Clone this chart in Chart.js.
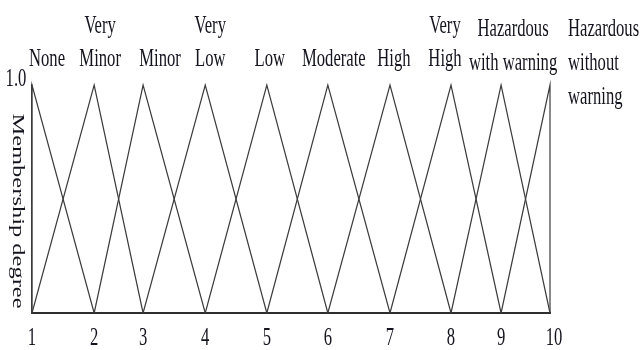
<!DOCTYPE html>
<html>
<head>
<meta charset="utf-8">
<script src="https://cdn.jsdelivr.net/npm/chart.js@4"></script>
<style>
  html, body { margin: 0; padding: 0; background: #fff; }
  #wrap { width: 644px; height: 350px; }
</style>
</head>
<body>
<div id="wrap"><canvas id="mfChart" width="644" height="350"></canvas></div>
<script>
// linguistic terms, one triangle each
const termNames = [
  ["None"], ["Very", "Minor"], ["Minor"], ["Very", "Low"], ["Low"],
  ["Moderate"], ["High"], ["Very", "High"], ["Hazardous", "with warning"],
  ["Hazardous", "without", "warning"]
];
// where each peak sits on the axis (as drawn, spacing is uneven)
const peakPos = [1, 2.08, 2.93, 4.01, 5.08, 6.14, 7.22, 8.28, 9.15, 10];
const xTickLabels = ["1", "2", "3", "4", "5", "6", "7", "8", "9", "10"];
const yTickValues = [1];
const yTickLabels = ["1.0"];
const yTitle = "Membership degree";

const FONT = "'Liberation Serif', 'Times New Roman', serif";
const SQUEEZE = 0.64;
const INK = "#14141e";

// label placement: x offset from peak (px), alignment, line baselines
const labelLayout = [
  { dx: 15 }, { dx: 6 }, { dx: 17 }, { dx: 5 }, { dx: 3 },
  { dx: 6 }, { dx: 4 }, { dx: -6 }, { dx: 12, tall: true },
  { dx: 18, align: "left", tall: true }
];

function buildDatasets() {
  const n = peakPos.length;
  return peakPos.map((p, i) => {
    const pts = [];
    pts.push({ x: i > 0 ? peakPos[i - 1] : p, y: 0 });
    pts.push({ x: p, y: 1 });
    pts.push({ x: i < n - 1 ? peakPos[i + 1] : p, y: 0 });
    return {
      label: termNames[i].join(" "),
      data: pts,
      borderColor: "#3c3c3c",
      borderWidth: 1.2,
      pointRadius: 0,
      tension: 0,
      fill: false,
      clip: false
    };
  });
}

function squeezedText(ctx, txt, x, y, align) {
  ctx.save();
  ctx.translate(x, y);
  ctx.scale(SQUEEZE, 1);
  ctx.textAlign = align || "center";
  ctx.fillText(txt, 0, 0);
  ctx.restore();
}

const textPlugin = {
  id: "mfText",
  afterDraw(chart) {
    const ctx = chart.ctx;
    const xs = chart.scales.x, ys = chart.scales.y;
    ctx.save();
    ctx.fillStyle = INK;
    ctx.textBaseline = "alphabetic";
    ctx.font = "26px " + FONT;

    // term names on top
    termNames.forEach((lines, i) => {
      const lay = labelLayout[i];
      const px = xs.getPixelForValue(peakPos[i]) + lay.dx;
      let bases;
      if (lay.tall) bases = [36, 70, 104];
      else bases = lines.length === 2 ? [33, 66] : [66];
      lines.forEach((ln, k) => squeezedText(ctx, ln, px, bases[k], lay.align));
    });

    // x tick labels
    xTickLabels.forEach((t, i) => {
      const px = xs.getPixelForValue(peakPos[i]) + (t.length > 1 ? 4 : 0);
      squeezedText(ctx, t, px, 345);
    });

    // y tick labels
    yTickValues.forEach((v, i) => {
      const py = ys.getPixelForValue(v);
      squeezedText(ctx, yTickLabels[i], 16, py + 1, "center");
    });

    // y title, reading top to bottom
    ctx.font = "24.5px " + FONT;
    ctx.save();
    ctx.translate(17, (ys.top + ys.bottom) / 2 + 12);
    ctx.scale(0.65, 1);
    ctx.rotate(Math.PI / 2);
    ctx.textAlign = "center";
    ctx.textBaseline = "middle";
    ctx.fillText(yTitle, 0, 0);
    ctx.restore();

    ctx.restore();
  }
};

new Chart(document.getElementById("mfChart"), {
  type: "line",
  data: { datasets: buildDatasets() },
  options: {
    responsive: false,
    animation: false,
    layout: { padding: { left: 32, right: 94, top: 85, bottom: 37 } },
    scales: {
      x: {
        type: "linear",
        min: 1,
        max: 10,
        grid: { display: false, drawTicks: false },
        ticks: { display: false },
        border: { display: true, color: "#2e2e2e", width: 2 },
        afterFit(s) { s.height = 0; }
      },
      y: {
        min: 0,
        max: 1,
        grid: { display: false, drawTicks: false },
        ticks: { display: false },
        border: { display: true, color: "#3c3c3c", width: 1.3 },
        afterFit(s) { s.width = 0; }
      }
    },
    plugins: {
      legend: { display: false },
      tooltip: { enabled: false }
    }
  },
  plugins: [textPlugin]
});
</script>
</body>
</html>
